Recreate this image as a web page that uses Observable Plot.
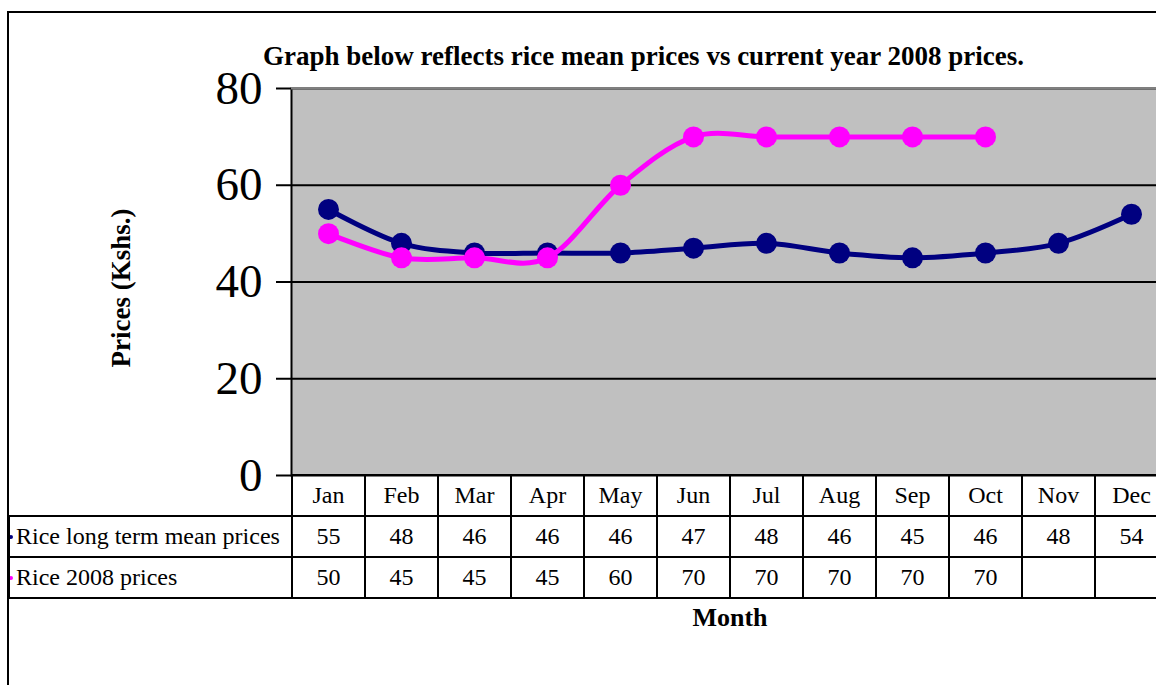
<!DOCTYPE html>
<html>
<head>
<meta charset="utf-8">
<script src="https://cdn.jsdelivr.net/npm/d3@7"></script>
<script src="https://cdn.jsdelivr.net/npm/@observablehq/plot@0.6"></script>
<style>
  html, body { margin: 0; padding: 0; background: #fff; }
  #wrap { position: relative; width: 1156px; height: 685px; overflow: hidden; font-family: "Liberation Serif", "Times New Roman", serif; }
  #frame { position: absolute; left: 7px; top: 11px; width: 2000px; height: 2000px; border-left: 2px solid #000; border-top: 2px solid #000; }
  #chart { position: absolute; left: 0; top: 0; width: 1168px; height: 685px; }
  #chart svg { max-width: none !important; width: 1168px !important; height: 685px !important; }
  #title { position: absolute; left: 263px; top: 41px; font-size: 27px; line-height: 30px; font-weight: bold; white-space: nowrap; }
  #ylabel { position: absolute; left: 121px; top: 288px; font-size: 27px; line-height: 30px; font-weight: bold; white-space: nowrap; transform: translate(-50%, -50%) rotate(-90deg); }
  #xlabel { position: absolute; left: 730px; top: 603px; font-size: 26px; line-height: 30px; font-weight: bold; transform: translateX(-50%); }
  #table { position: absolute; left: 8px; top: 474px; border-collapse: collapse; table-layout: fixed; width: 1159px; font-size: 24px; }
  #table td { border: 2px solid #000; padding: 0; height: 41px; box-sizing: border-box; text-align: center; white-space: nowrap; overflow: hidden; }
  #table td.lab { text-align: left; position: relative; padding-left: 6px; }
  #table td.blank { border-top: none; border-left: none; border-bottom: 2px solid #000; }
  .key { position: absolute; left: -1px; top: 50%; width: 4px; height: 4px; margin-top: -2px; border-radius: 2px; }
</style>
</head>
<body>
<div id="wrap">
  <div id="frame"></div>
  <div id="chart"></div>
  <div id="title"></div>
  <div id="ylabel"></div>
  <div id="xlabel"></div>
  <table id="table"></table>
</div>
<script>
const months = ["Jan","Feb","Mar","Apr","May","Jun","Jul","Aug","Sep","Oct","Nov","Dec"];
const meanPrices = [55,48,46,46,46,47,48,46,45,46,48,54];
const prices2008 = [50,45,45,45,60,70,70,70,70,70,null,null];
const seriesNames = ["Rice long term mean prices", "Rice 2008 prices"];
const seriesColors = ["#000080", "#FF00FF"];
const yTicks = [0,20,40,60,80];
const gridTicks = [20,40,60];
const titleText = "Graph below reflects rice mean prices vs current year 2008 prices.";
const yLabelText = "Prices (Kshs.)";
const xLabelText = "Month";

const meanData = months.map((m, i) => ({month: m, value: meanPrices[i]}));
const data2008 = months.map((m, i) => ({month: m, value: prices2008[i]})).filter(d => d.value != null);

const chart = Plot.plot({
  width: 1168,
  height: 685,
  marginLeft: 291,
  marginRight: 0,
  marginTop: 88,
  marginBottom: 210,
  style: {background: "transparent", fontFamily: "'Liberation Serif', 'Times New Roman', serif", color: "#000", maxWidth: "none"},
  x: {type: "point", domain: months, padding: 0.5, axis: null},
  y: {domain: [0, 80], axis: null},
  marks: [
    Plot.frame({fill: "#C0C0C0", stroke: "#000", strokeWidth: 2}),
    Plot.ruleY([80], {stroke: "#808080", strokeWidth: 2}),
    Plot.ruleY(gridTicks, {stroke: "#000", strokeWidth: 2}),
    Plot.axisY({ticks: yTicks, label: null, tickSize: 15, tickPadding: 14, fontSize: 47, strokeWidth: 2, tickFormat: d => String(d)}),
    Plot.line(meanData, {x: "month", y: "value", stroke: seriesColors[0], strokeWidth: 5, curve: "cardinal", tension: 0}),
    Plot.dot(meanData, {x: "month", y: "value", r: 10.5, fill: seriesColors[0]}),
    Plot.line(data2008, {x: "month", y: "value", stroke: seriesColors[1], strokeWidth: 5, curve: "cardinal", tension: 0}),
    Plot.dot(data2008, {x: "month", y: "value", r: 10.5, fill: seriesColors[1]})
  ]
});
document.getElementById("chart").appendChild(chart);
document.getElementById("title").textContent = titleText;
document.getElementById("ylabel").textContent = yLabelText;
document.getElementById("xlabel").textContent = xLabelText;

// data table
const table = document.getElementById("table");
const colW = 73;
const headRow = table.insertRow();
const blank = headRow.insertCell();
blank.className = "blank";
blank.style.width = "283px";
months.forEach(m => { const c = headRow.insertCell(); c.textContent = m; c.style.width = colW + "px"; });
[meanPrices, prices2008].forEach((vals, si) => {
  const r = table.insertRow();
  const lab = r.insertCell();
  lab.className = "lab";
  const key = document.createElement("span");
  key.className = "key";
  key.style.background = seriesColors[si];
  lab.appendChild(key);
  lab.appendChild(document.createTextNode(seriesNames[si]));
  vals.forEach(v => { const c = r.insertCell(); c.textContent = v == null ? "" : v; });
});
</script>
</body>
</html>
